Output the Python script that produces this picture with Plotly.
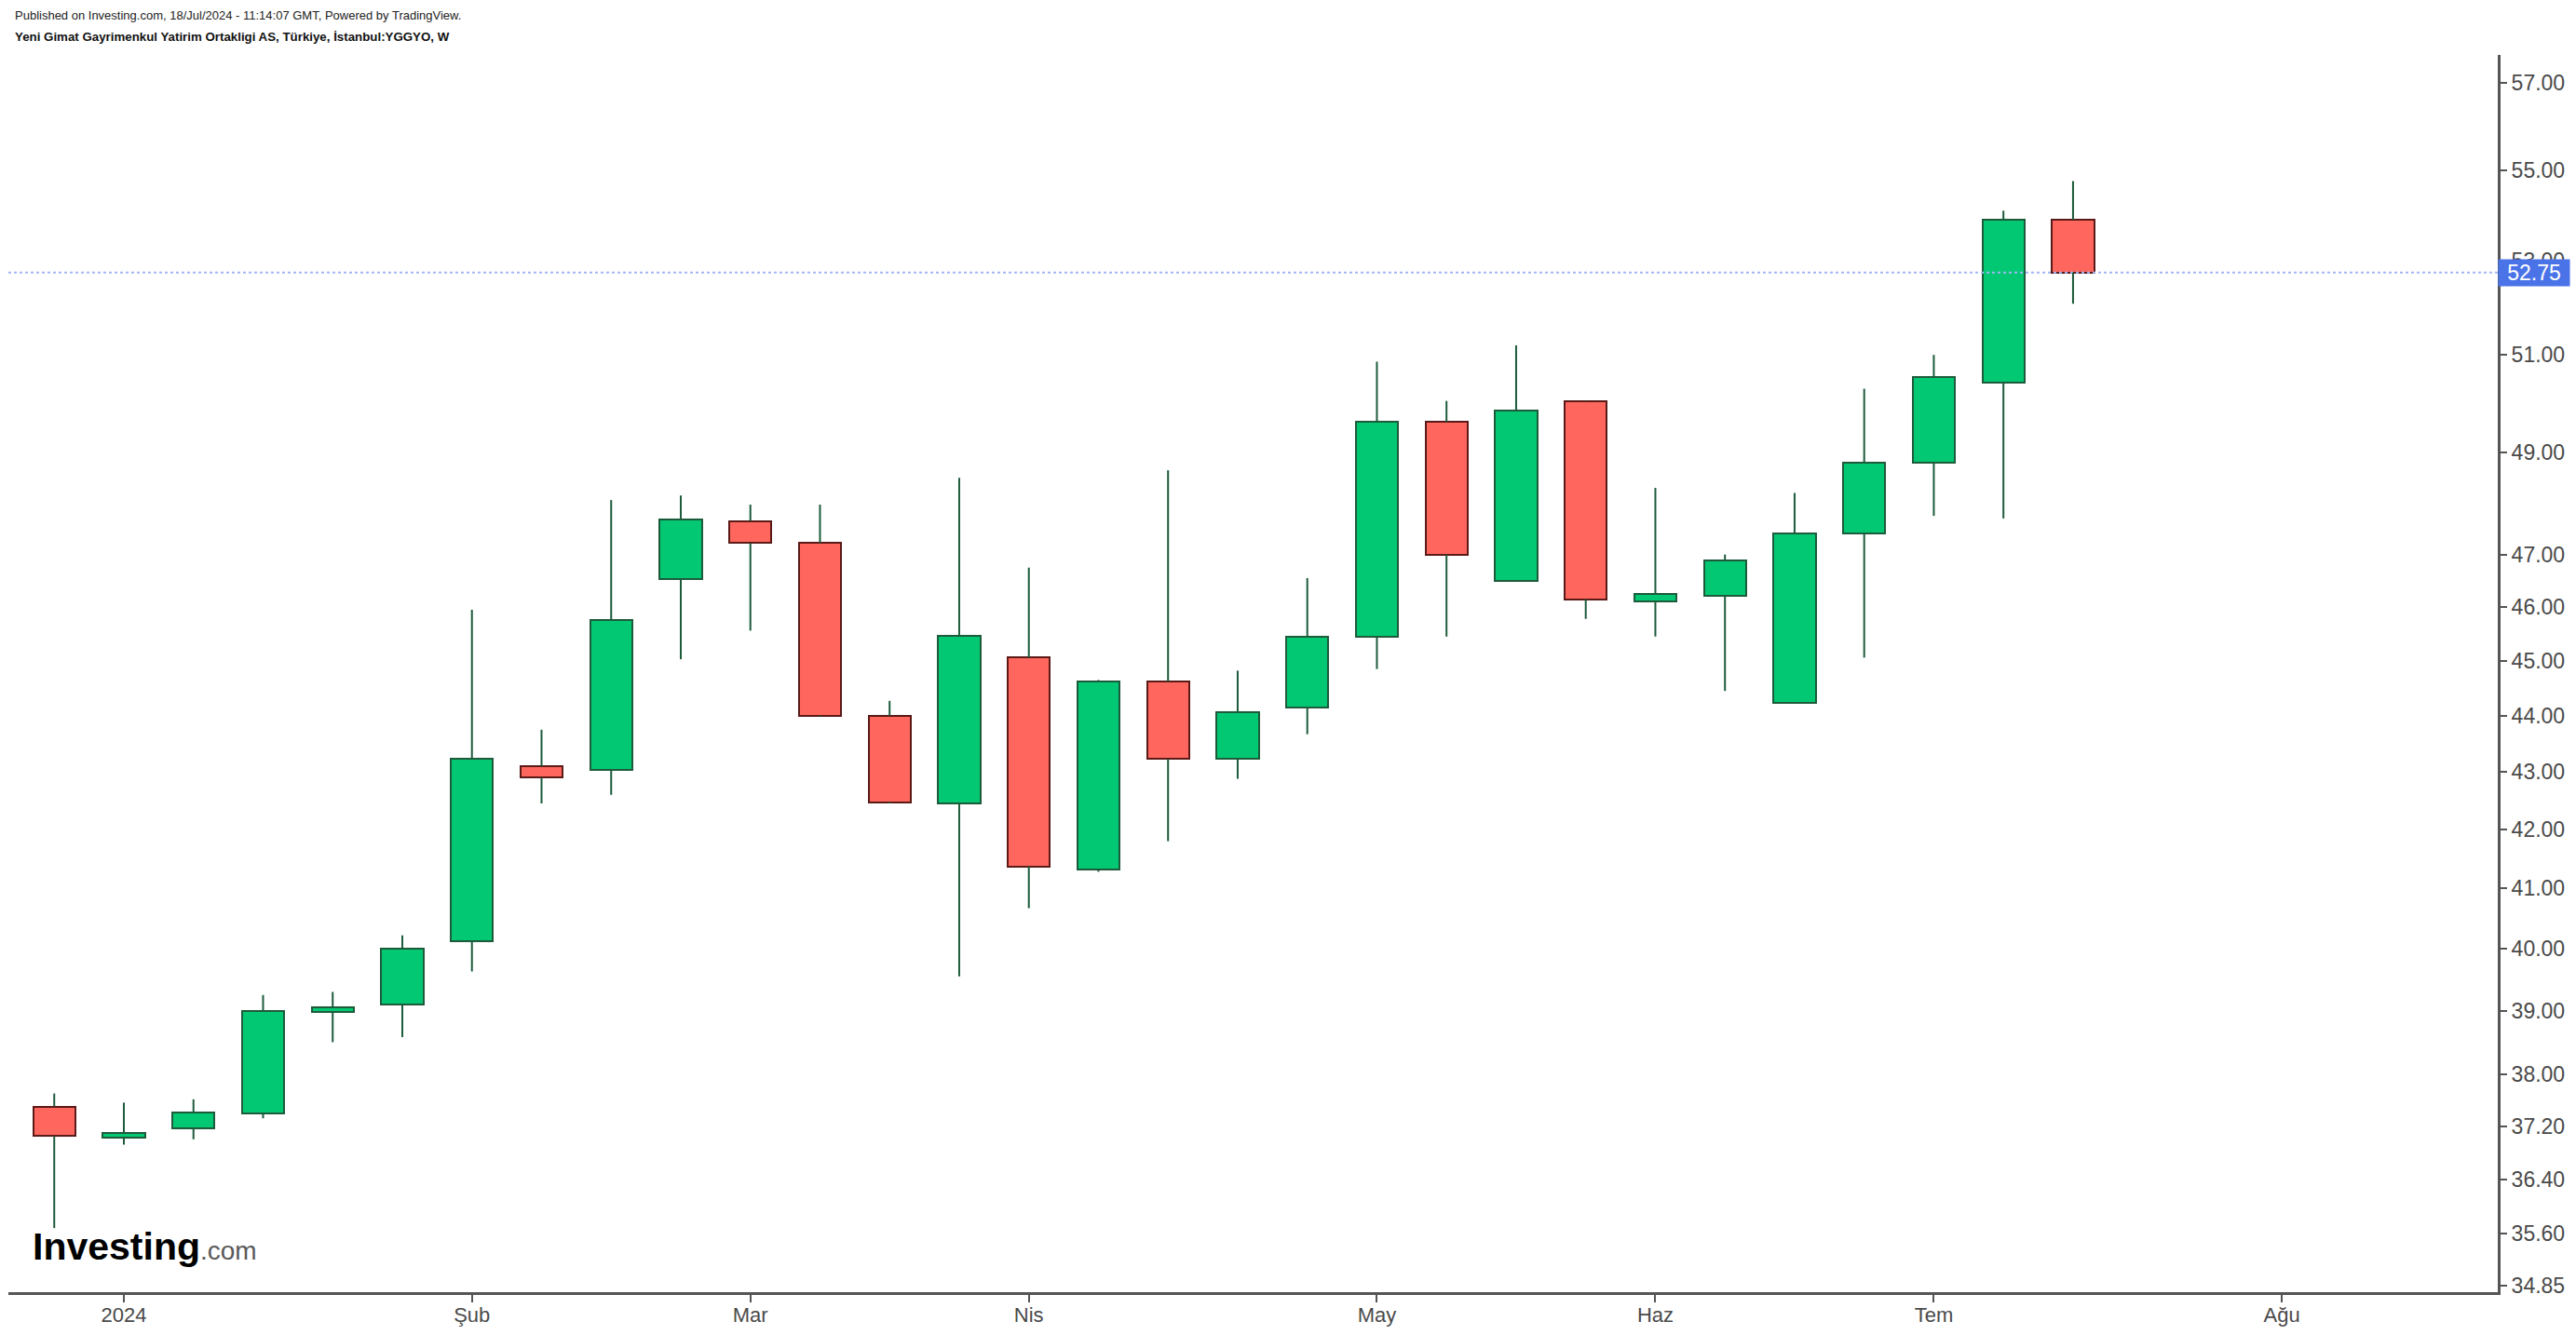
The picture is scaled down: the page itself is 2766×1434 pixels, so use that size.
import math
import plotly.graph_objects as go

# ---------------- data ----------------
dates = ["2023-12-25", "2024-01-01", "2024-01-08", "2024-01-15", "2024-01-22", "2024-01-29",
         "2024-02-05", "2024-02-12", "2024-02-19", "2024-02-26", "2024-03-04", "2024-03-11",
         "2024-03-18", "2024-03-25", "2024-04-01", "2024-04-08", "2024-04-15", "2024-04-22",
         "2024-04-29", "2024-05-06", "2024-05-13", "2024-05-20", "2024-05-27", "2024-06-03",
         "2024-06-10", "2024-06-17", "2024-06-24", "2024-07-01", "2024-07-08", "2024-07-15"]
opens = [37.50, 37.03, 37.16, 37.40, 38.98, 39.10, 40.13, 43.10, 43.03, 46.53, 47.65, 47.22,
         44.00, 42.45, 45.06, 41.32, 44.62, 43.23, 44.15, 45.45, 49.62, 46.50, 50.05, 46.10,
         46.22, 44.24, 47.40, 48.80, 50.43, 53.90]
highs = [37.70, 37.56, 37.61, 39.25, 39.30, 40.22, 45.95, 43.75, 48.06, 48.15, 47.97, 47.97,
         44.27, 48.50, 46.75, 44.65, 48.65, 44.82, 46.55, 50.86, 50.05, 51.20, 50.06, 48.30,
         47.00, 48.20, 50.30, 51.00, 54.10, 54.76]
lows = [35.68, 36.92, 37.00, 37.32, 38.50, 38.58, 39.63, 42.45, 42.60, 45.03, 45.56, 43.98,
        42.45, 39.55, 40.67, 41.28, 41.80, 42.88, 43.67, 44.85, 45.45, 46.48, 45.78, 45.45,
        44.45, 44.22, 45.06, 47.75, 47.70, 52.08]
closes = [37.05, 37.10, 37.41, 39.00, 39.06, 40.00, 43.23, 42.90, 45.75, 47.68, 47.22, 44.00,
          42.47, 45.47, 41.37, 44.62, 43.23, 44.06, 45.45, 49.62, 47.00, 49.85, 46.15, 46.25,
          46.88, 47.40, 48.80, 50.55, 53.90, 52.75]

month_tick_dates = ["2024-01-01", "2024-02-05", "2024-03-04", "2024-04-01",
                    "2024-05-06", "2024-06-03", "2024-07-01", "2024-08-05"]
month_tick_labels = ["2024", "Şub", "Mar", "Nis", "May", "Haz", "Tem", "Ağu"]
price_ticks = [34.85, 35.60, 36.40, 37.20, 38.00, 39.00, 40.00, 41.00, 42.00, 43.00,
               44.00, 45.00, 46.00, 47.00, 49.00, 51.00, 53.00, 55.00, 57.00]
last_price = 52.75

x_range = ["2023-12-20 09:20", "2024-08-26 17:00"]
y_range = [34.757, 57.66]

# ---------------- styles ----------------
UP_FILL, UP_LINE = "#02c874", "#1d5b3b"
DN_FILL, DN_LINE = "#ff675e", "#5a1a17"
WICK = "#1d5b3b"
AXIS = "#555555"
TXT = "#4a4a4a"
FONT = "Liberation Sans, Arial, sans-serif"

W, H = 2766, 1434
ML, MR, MT, MB = 9, 84, 59, 32
PW, PH = W - ML - MR, H - MT - MB

up = [c >= o for o, c in zip(opens, closes)]
base = [min(o, c) for o, c in zip(opens, closes)]
size = [abs(c - o) for o, c in zip(opens, closes)]
fills = [UP_FILL if u else DN_FILL for u in up]
edges = [UP_LINE if u else DN_LINE for u in up]

wx, wy = [], []
for d, o, h, l, c in zip(dates, opens, highs, lows, closes):
    wx += [d, d, None, d, d, None]
    wy += [l, min(o, c), None, max(o, c), h, None]

fig = go.Figure()
# last price line
fig.add_trace(go.Scatter(x=x_range, y=[last_price, last_price], mode="lines",
                         line=dict(color="#a3b6f3", width=2, dash="dot"),
                         hoverinfo="skip", showlegend=False))
fig.add_trace(go.Bar(x=dates, y=size, base=base,
                     width=0.606 * 7 * 86400000,
                     marker=dict(color=fills, line=dict(color=edges, width=2)),
                     showlegend=False))
fig.add_trace(go.Scatter(x=wx, y=wy, mode="lines",
                         line=dict(color=WICK, width=2),
                         hoverinfo="skip", showlegend=False))

fig.update_layout(
    width=W, height=H, autosize=False,
    margin=dict(l=ML, r=MR, t=MT, b=MB, pad=0),
    paper_bgcolor="white", plot_bgcolor="white",
    showlegend=False, bargap=0,
    font=dict(family=FONT, color=TXT, size=22),
)
fig.update_xaxes(type="date", range=x_range, showgrid=False, zeroline=False,
                 showline=True, linecolor=AXIS, linewidth=3,
                 ticks="outside", ticklen=8, tickwidth=2, tickcolor=AXIS,
                 ticklabelstandoff=-5,
                 tickvals=month_tick_dates, ticktext=month_tick_labels,
                 tickfont=dict(size=22, color=TXT, family=FONT))
fig.update_yaxes(type="log", side="right",
                 range=[math.log10(y_range[0]), math.log10(y_range[1])],
                 showgrid=False, zeroline=False,
                 showline=True, linecolor=AXIS, linewidth=3,
                 ticks="outside", ticklen=7, tickwidth=2, tickcolor=AXIS,
                 tickvals=price_ticks, ticktext=[f"{v:.2f}" for v in price_ticks],
                 tickfont=dict(size=23, color=TXT, family=FONT))

def px_x(px):
    return (px - ML) / PW

def px_y(py):
    return (H - MB - py) / PH

annos = [
    dict(text="Published on Investing.com, 18/Jul/2024 - 11:14:07 GMT, Powered by TradingView.",
         x=px_x(14), y=px_y(16), xanchor="left", yanchor="middle",
         font=dict(size=13, color="#222222", family="Liberation Sans Narrow, Arial Narrow, Liberation Sans")),
    dict(text="<b>Yeni Gimat Gayrimenkul Yatirim Ortakligi AS, Türkiye, İstanbul:YGGYO, W</b>",
         x=px_x(14), y=px_y(39), xanchor="left", yanchor="middle",
         font=dict(size=13.3, color="#111111", family="Liberation Sans Narrow, Arial Narrow, Liberation Sans")),
    dict(text="<b>Investing</b><span style='font-size:28px;color:#5a5a5a'>.com</span>",
         x=px_x(33), y=px_y(1352), xanchor="left", yanchor="middle",
         font=dict(size=41, color="#000000", family=FONT)),
]
for a in annos:
    a.update(xref="paper", yref="paper", showarrow=False)
    fig.add_annotation(**a)

# last price label on the axis
fig.add_annotation(x=1, xref="paper", y=math.log10(last_price), yref="y",
                   xanchor="left", yanchor="middle", xshift=0,
                   text=f"{last_price:.2f}", showarrow=False,
                   bgcolor="#4a73e8", width=76, height=28, align="center",
                   font=dict(size=23, color="white", family=FONT), borderpad=0)

fig.write_html("out.html", config={"displayModeBar": False},
               post_script="document.body.style.margin='0';document.body.style.overflow='hidden';")
